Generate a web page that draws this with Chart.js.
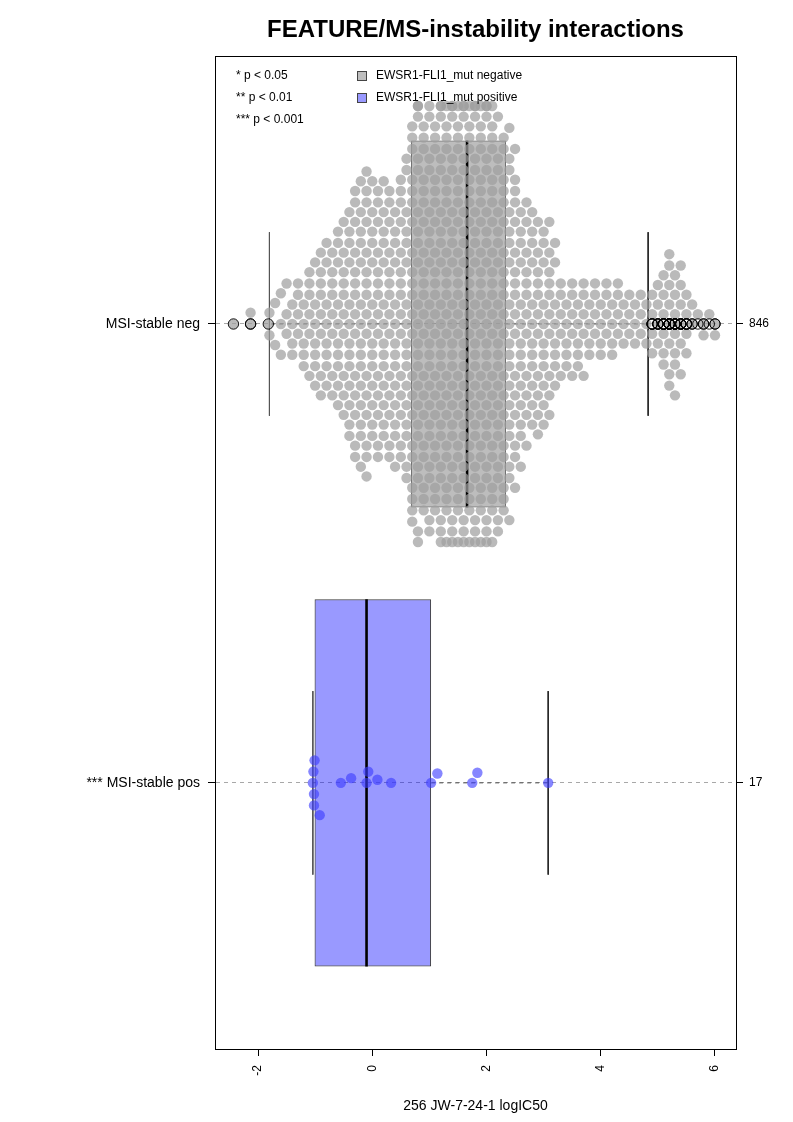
<!DOCTYPE html>
<html><head><meta charset="utf-8">
<script src="https://cdn.jsdelivr.net/npm/chart.js@4"></script>
<style>html,body{margin:0;padding:0;background:#fff}#wrap{width:793px;height:1122px}</style>
</head><body><div id="wrap"><canvas id="c" width="793" height="1122"></canvas></div>
<script>
// ---------------- data ----------------
const chartTitle = 'FEATURE/MS-instability interactions';
const xTitle = '256 JW-7-24-1 logIC50';
const categories = ['MSI-stable neg', 'MSI-stable pos'];
const significance = ['', '***'];
const groupSizes = [846, 17];
const xTicks = [-2, 0, 2, 4, 6];
const pKeyLabels = ['* p < 0.05', '** p < 0.01', '*** p < 0.001'];
const legendLabels = ['EWSR1-FLI1_mut negative', 'EWSR1-FLI1_mut positive'];

// MSI-stable neg: values read per 0.1-wide column of the swarm (value, number of points)
const negBinValues = [-1.8,-1.7,-1.6,-1.5,-1.4,-1.3,-1.2,-1.1,-1.0,-0.9,-0.8,-0.7,-0.6,-0.5,-0.4,-0.3,-0.2,-0.1,
  0.0,0.1,0.2,0.3,0.4,0.5,0.6,0.7,0.8,0.9,1.0,1.1,1.2,1.3,1.4,1.5,1.6,1.7,1.8,1.9,2.0,2.1,2.2,2.3,
  2.4,2.5,2.6,2.7,2.8,2.9,3.0,3.1,3.2,3.3,3.4,3.5,3.6,3.7,3.8,3.9,4.0,4.1,4.2,4.3,4.4,4.5,4.6,4.7,4.8,
  4.9,5.0,5.1,5.2,5.3,5.4,5.5,5.6,5.7,5.8,5.9,6.0];
const negBinCounts = [2,2,3,3,4,4,5,6,7,8,8,8,10,10,13,14,15,16,
  14,14,14,14,14,15,17,22,22,21,21,21,23,23,23,23,23,23,23,23,23,23,20,20,
  19,17,14,12,12,11,11,10,8,5,5,5,5,5,4,4,4,4,4,4,3,3,3,3,3,
  4,4,6,8,7,6,4,2,1,2,1,2];
const negTailValues = [-2.43, -2.13, -2.13, -1.82];

// MSI-stable pos: 17 individual values
const posValues = [-1.04,-1.03,-1.02,-1.02,-1.01,-0.92,-0.55,-0.37,-0.10,-0.07,0.09,0.33,1.03,1.14,1.75,1.84,3.08];

// box statistics per group (neg, pos)
const whiskerLow  = [-1.80, -1.04];
const q1          = [0.68, -1.01];
const medians     = [1.66, -0.10];
const q3          = [2.34, 1.03];
const whiskerHigh = [4.83, 3.08];

// ---------------- styles / layout ----------------
const FONT = '"Liberation Sans", Arial, Helvetica, sans-serif';
const groupPos = [1, 2];
const Y_MIN = 0.416, Y_MAX = 2.58;
const X_MIN = -2.753, X_MAX = 6.368;
const BOX_HALF = 0.4, STAPLE_HALF = 0.2;
const PT_R = 5.2, SWARM_D = 11.3, GUTTER_PX = 218;
const boxFill = ['rgba(128,128,128,0.52)', 'rgba(0,0,255,0.4)'];
const boxEdge = ['#555555', '#3c3c3c'];
const pointFill = ['rgba(160,160,160,0.72)', 'rgba(60,60,255,0.62)'];
const legendFill = ['#bebebe', '#9999ff'];

const negValues = negTailValues.concat(...negBinValues.map((v, i) => Array(negBinCounts[i]).fill(v)));
const groupValues = [negValues, posValues];

// ---------------- datasets ----------------
const datasets = [];
datasets.push({
  type: 'bar', indexAxis: 'y', grouped: false,
  data: categories.map((c, i) => ({ x: [q1[i], q3[i]], y: groupPos[i] })),
  backgroundColor: boxFill, borderColor: boxEdge, borderWidth: 1, borderSkipped: false,
  categoryPercentage: 1, barPercentage: 2 * BOX_HALF, order: 20
});
categories.forEach((c, i) => {
  const y = groupPos[i];
  const line = (pts, color, width, dash, order) => datasets.push({
    type: 'line', data: pts, borderColor: color, borderWidth: width, borderDash: dash,
    pointRadius: 0, fill: false, tension: 0, order
  });
  line([{ x: medians[i], y: y - BOX_HALF }, { x: medians[i], y: y + BOX_HALF }], '#000', 2.6, [], 18);
  line([{ x: q1[i], y }, { x: whiskerLow[i], y }], '#555', 1, [4, 4], 17);
  line([{ x: q3[i], y }, { x: whiskerHigh[i], y }], '#555', 1, [4, 4], 17);
  line([{ x: whiskerLow[i], y: y - STAPLE_HALF }, { x: whiskerLow[i], y: y + STAPLE_HALF }], '#555', 1, [], 17);
  line([{ x: whiskerHigh[i], y: y - STAPLE_HALF }, { x: whiskerHigh[i], y: y + STAPLE_HALF }], '#222', 1, [], 17);
});
const pointSets = categories.map((c, i) => {
  const ds = {
    type: 'scatter', data: groupValues[i].map(v => ({ x: v, y: groupPos[i] })),
    backgroundColor: pointFill[i], borderWidth: 0, pointRadius: PT_R, pointHoverRadius: PT_R, order: 10
  };
  datasets.push(ds);
  return ds;
});
categories.forEach((c, i) => {
  const outl = groupValues[i].filter(v => v < whiskerLow[i] || v > whiskerHigh[i]);
  datasets.push({
    type: 'scatter', data: outl.map(v => ({ x: v, y: groupPos[i] })),
    backgroundColor: 'rgba(0,0,0,0)', borderColor: '#000', borderWidth: 0.9,
    pointRadius: PT_R, pointHoverRadius: PT_R, order: 5
  });
});

// ---------------- legend / key plugin ----------------
const keyPlugin = {
  id: 'key',
  afterDatasetsDraw(chart) {
    const { ctx, chartArea: a } = chart;
    ctx.save();
    ctx.font = '12px ' + FONT;
    ctx.fillStyle = '#000';
    ctx.textBaseline = 'middle';
    ctx.textAlign = 'left';
    pKeyLabels.forEach((t, i) => ctx.fillText(t, a.left + 21, a.top + 20 + i * 22));
    legendLabels.forEach((t, i) => {
      const y = a.top + 20 + i * 22;
      ctx.fillStyle = legendFill[i];
      ctx.fillRect(a.left + 142.5, y - 4.5, 9, 9);
      ctx.strokeStyle = '#444';
      ctx.lineWidth = 1;
      ctx.strokeRect(a.left + 142.5, y - 4.5, 9, 9);
      ctx.fillStyle = '#000';
      ctx.fillText(t, a.left + 161, y);
    });
    ctx.restore();
  }
};

// ---------------- chart ----------------
const chart = new Chart(document.getElementById('c'), {
  type: 'scatter',
  data: { datasets },
  plugins: [keyPlugin],
  options: {
    responsive: false, animation: false, devicePixelRatio: 1, events: [],
    layout: { padding: 0 },
    plugins: {
      legend: { display: false }, tooltip: { enabled: false },
      title: { display: true, text: chartTitle, fullSize: false, color: '#000',
        font: { family: FONT, size: 24, weight: 'bold' }, padding: { top: 16, bottom: 11.2 } }
    },
    scales: {
      x: {
        type: 'linear', position: 'bottom', min: X_MIN, max: X_MAX,
        afterBuildTicks: s => { s.ticks = xTicks.map(v => ({ value: v })); },
        afterFit: s => { s.height = 73; },
        ticks: { autoSkip: false, minRotation: 90, maxRotation: 90, color: '#000', padding: 9,
          font: { family: FONT, size: 12 }, callback: v => String(v) },
        grid: { drawOnChartArea: false, drawTicks: true, tickLength: 7, color: '#000', tickColor: '#000' },
        border: { display: true, color: '#000', width: 1 },
        title: { display: true, text: xTitle, color: '#000', font: { family: FONT, size: 14 }, padding: { top: 4, bottom: 7 } }
      },
      xTop: {
        type: 'linear', position: 'top', min: X_MIN, max: X_MAX,
        afterFit: s => { s.height = 0; },
        ticks: { display: false }, grid: { display: false, drawTicks: false },
        border: { display: true, color: '#000', width: 1 }
      },
      y: {
        type: 'linear', reverse: true, min: Y_MIN, max: Y_MAX, offset: false,
        afterBuildTicks: s => { s.ticks = groupPos.map(v => ({ value: v })); },
        afterFit: s => { s.width = 215; },
        ticks: { autoSkip: false, color: '#000', padding: 8, font: { family: FONT, size: 14 },
          callback: v => { const i = groupPos.indexOf(v); return (significance[i] ? significance[i] + ' ' : '') + categories[i]; } },
        grid: { offset: false, drawOnChartArea: true, drawTicks: true, tickLength: 7, color: '#a8a8a8', tickColor: '#000', lineWidth: 1 },
        border: { display: true, color: '#000', width: 1, dash: [4, 4] }
      },
      y2: {
        type: 'linear', position: 'right', reverse: true, min: Y_MIN, max: Y_MAX, offset: false,
        afterBuildTicks: s => { s.ticks = groupPos.map(v => ({ value: v })); },
        afterFit: s => { s.width = 57; },
        ticks: { autoSkip: false, color: '#000', padding: 6, font: { family: FONT, size: 12 },
          callback: v => String(groupSizes[groupPos.indexOf(v)]) },
        grid: { offset: false, drawOnChartArea: false, drawTicks: true, tickLength: 7, color: '#000', tickColor: '#000' },
        border: { display: true, color: '#000', width: 1 }
      }
    }
  }
});

// ---------------- beeswarm layout (pixel space, via the chart's scales) ----------------
function swarmOffsets(pxs, d, limit) {
  const order = pxs.map((p, i) => i).sort((a, b) => pxs[a] - pxs[b] || a - b);
  const placed = [];
  const off = new Array(pxs.length).fill(0);
  let start = 0;
  for (const i of order) {
    const xi = pxs[i];
    while (start < placed.length && xi - pxs[placed[start]] >= d) start++;
    const neigh = placed.slice(start);
    const cands = [0];
    for (const j of neigh) {
      const dx = xi - pxs[j];
      const h = Math.sqrt(Math.max(0, d * d - dx * dx));
      cands.push(off[j] - h, off[j] + h);
    }
    cands.sort((a, b) => (Math.abs(a) - Math.abs(b)) || (a - b));
    let chosen = 0;
    for (const c of cands) {
      let ok = true;
      for (const j of neigh) {
        const dx = xi - pxs[j], dy = c - off[j];
        if (dx * dx + dy * dy < d * d - 1e-6) { ok = false; break; }
      }
      if (ok) { chosen = c; break; }
    }
    if (Math.abs(chosen) > limit) chosen = Math.sign(chosen) * limit;
    off[i] = chosen;
    placed.push(i);
  }
  return off;
}
const xs = chart.scales.x, ys = chart.scales.y;
const pxPerUnit = Math.abs(ys.getPixelForValue(2) - ys.getPixelForValue(1));
categories.forEach((c, i) => {
  const vals = groupValues[i];
  const off = swarmOffsets(vals.map(v => xs.getPixelForValue(v)), SWARM_D, GUTTER_PX);
  pointSets[i].data = vals.map((v, k) => ({ x: v, y: groupPos[i] + off[k] / pxPerUnit }));
});
chart.update('none');
</script></body></html>
